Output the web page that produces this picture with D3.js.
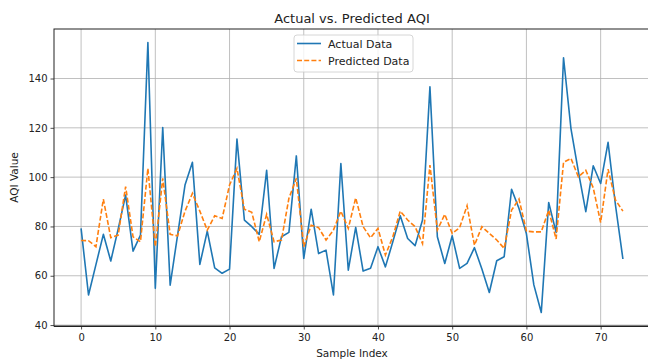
<!DOCTYPE html>
<html>
<head>
<meta charset="utf-8">
<script src="https://cdn.jsdelivr.net/npm/d3@7"></script>
<style>
  body { margin: 0; background: #fff; }
  svg { font-family: "DejaVu Sans", sans-serif; display: block; }
</style>
</head>
<body>
<script>
const width = 648;
const height = 359;

// values
const actual = [
    79.2, 52.2, 64.5, 76.8, 66.0, 79.0, 92.7, 70.0, 76.5, 154.6,
    54.9, 120.1, 56.2, 76.5, 96.8, 106.0, 64.6, 78.1, 63.2, 61.0,
    62.7, 115.4, 82.6, 79.9, 76.8, 102.8, 63.0, 75.8, 77.6, 108.6,
    67.0, 87.0, 69.0, 70.4, 52.2, 105.5, 62.3, 79.6, 61.9, 63.0,
    71.8, 63.6, 73.8, 84.3, 75.1, 72.2, 82.6, 136.6, 75.8, 65.0,
    76.2, 63.0, 65.0, 71.4, 62.7, 53.2, 66.1, 67.7, 95.1, 87.3,
    77.0, 56.3, 45.1, 89.7, 77.6, 148.4, 119.7, 102.2, 86.0, 104.6,
    97.4, 114.1, 88.6, 66.8
];
const predicted = [
    74.3, 74.2, 71.8, 91.1, 75.4, 76.5, 96.2, 75.8, 73.8, 103.5,
    71.8, 99.5, 76.8, 76.2, 86.2, 93.4, 86.2, 78.5, 84.3, 83.2,
    96.8, 103.5, 87.0, 85.7, 73.8, 84.9, 73.8, 74.5, 91.4, 99.5,
    71.8, 80.5, 79.5, 74.5, 78.5, 86.2, 79.2, 91.6, 79.9, 75.4,
    79.2, 68.4, 75.8, 86.2, 82.6, 79.9, 73.0, 104.9, 78.5, 84.9,
    77.2, 79.5, 88.4, 72.4, 79.9, 77.2, 74.5, 71.1, 86.6, 91.1,
    78.1, 77.8, 77.8, 86.6, 74.9, 106.0, 107.6, 100.1, 102.8, 95.7,
    81.6, 103.2, 90.7, 86.2
];
const xTicks = [0, 10, 20, 30, 40, 50, 60, 70];
const yTicks = [40, 60, 80, 100, 120, 140];
const seriesNames = ["Actual Data", "Predicted Data"];

const margin = {left: 54, right: 650, top: 29, bottom: 326};

const svg = d3.select("body").append("svg")
    .attr("width", width)
    .attr("height", height);

// matplotlib style 5% padding on data limits
const n = actual.length;
const xPad = (n - 1) * 0.05;
const all = actual.concat(predicted);
const [lo, hi] = d3.extent(all);
const yPad = (hi - lo) * 0.05;

const x = d3.scaleLinear().domain([-xPad, n - 1 + xPad]).range([margin.left, margin.right]);
const y = d3.scaleLinear().domain([lo - yPad, hi + yPad]).range([margin.bottom, margin.top]);

// grid
svg.append("g").selectAll("line.vx")
    .data(xTicks).enter().append("line")
    .attr("x1", d => x(d)).attr("x2", d => x(d))
    .attr("y1", margin.top).attr("y2", margin.bottom)
    .attr("stroke", "#b0b0b0").attr("stroke-width", 0.8);
svg.append("g").selectAll("line.hy")
    .data(yTicks).enter().append("line")
    .attr("x1", margin.left).attr("x2", margin.right)
    .attr("y1", d => y(d)).attr("y2", d => y(d))
    .attr("stroke", "#b0b0b0").attr("stroke-width", 0.8);

// lines
const line = d3.line().x((d, i) => x(i)).y(d => y(d));
svg.append("path").datum(actual)
    .attr("d", line).attr("fill", "none")
    .attr("stroke", "#1f77b4").attr("stroke-width", 1.6)
    .attr("stroke-linejoin", "round");
svg.append("path").datum(predicted)
    .attr("d", line).attr("fill", "none")
    .attr("stroke", "#ff7f0e").attr("stroke-width", 1.6)
    .attr("stroke-dasharray", "5,2.2");

// axes
const xAxis = d3.axisBottom(x).tickValues(xTicks).tickSize(3.5).tickPadding(4);
const yAxis = d3.axisLeft(y).tickValues(yTicks).tickSize(3.5).tickPadding(3);
const gx = svg.append("g").attr("transform", `translate(0,${margin.bottom})`).call(xAxis);
const gy = svg.append("g").attr("transform", `translate(${margin.left},0)`).call(yAxis);
[gx, gy].forEach(g => {
    g.select(".domain").remove();
    g.selectAll("text").attr("font-size", 10).attr("fill", "#222").attr("font-family", "DejaVu Sans");
    g.selectAll("line").attr("stroke", "#222").attr("stroke-width", 0.8);
});

// spines
svg.append("rect")
    .attr("x", margin.left).attr("y", margin.top)
    .attr("width", margin.right - margin.left).attr("height", margin.bottom - margin.top)
    .attr("fill", "none").attr("stroke", "#222").attr("stroke-width", 1);
svg.append("line")
    .attr("x1", margin.left).attr("x2", margin.right)
    .attr("y1", margin.bottom + 0.5).attr("y2", margin.bottom + 0.5)
    .attr("stroke", "#222").attr("stroke-width", 1);

// titles
svg.append("text")
    .attr("x", (margin.left + margin.right) / 2).attr("y", 23)
    .attr("text-anchor", "middle").attr("font-size", 13).attr("fill", "#222")
    .text("Actual vs. Predicted AQI");
svg.append("text")
    .attr("x", (margin.left + margin.right) / 2).attr("y", 357)
    .attr("text-anchor", "middle").attr("font-size", 10.5).attr("fill", "#222")
    .text("Sample Index");
svg.append("text")
    .attr("transform", `translate(18,${(margin.top + margin.bottom) / 2}) rotate(-90)`)
    .attr("text-anchor", "middle").attr("font-size", 10.5).attr("fill", "#222")
    .text("AQI Value");

// legend
const lg = svg.append("g").attr("transform", "translate(294,35)");
lg.append("rect")
    .attr("width", 119).attr("height", 37).attr("rx", 3)
    .attr("fill", "#fff").attr("fill-opacity", 0.8)
    .attr("stroke", "#cccccc").attr("stroke-width", 0.8);
const styles = [{c: "#1f77b4", dash: null}, {c: "#ff7f0e", dash: "5,2.2"}];
seriesNames.forEach((name, i) => {
    const yy = 8.5 + i * 17;
    lg.append("line")
        .attr("x1", 3).attr("x2", 27).attr("y1", yy).attr("y2", yy)
        .attr("stroke", styles[i].c).attr("stroke-width", 1.6)
        .attr("stroke-dasharray", styles[i].dash);
    lg.append("text")
        .attr("x", 34).attr("y", yy + 4)
        .attr("font-size", 11).attr("fill", "#222")
        .text(name);
});
</script>
</body>
</html>
